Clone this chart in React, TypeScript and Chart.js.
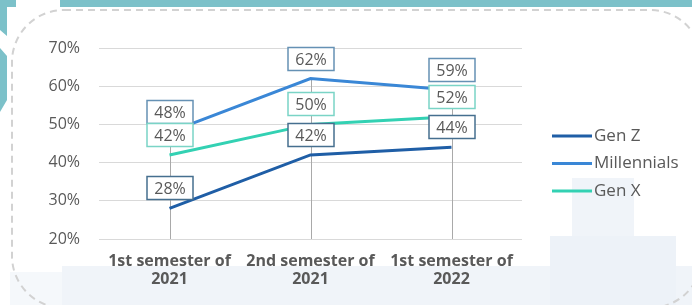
import React, { useEffect, useRef } from "react";
import { Chart, registerables } from "chart.js";

Chart.register(...registerables);

const categories: string[][] = [
  ["1st semester of", "2021"],
  ["2nd semester of", "2021"],
  ["1st semester of", "2022"],
];
const seriesNames = ["Gen Z", "Millennials", "Gen X"];
const genZ = [28, 42, 44];
const millennials = [48, 62, 59];
const genX = [42, 50, 52];
const yTicks = [20, 30, 40, 50, 60, 70];

const lineColors = ["#1f5ea6", "#3a87d6", "#33d1b3"];
const boxBorders = ["#466f8f", "#6591b4", "#7ad4c6"];
const TEXT = "#595959";
const FONT = "'Open Sans', 'DejaVu Sans', sans-serif";

const overlayPlugin = {
  id: "overlay",
  beforeDatasetsDraw(chart: any) {
    const ctx = chart.ctx;
    const xs = chart.scales.x;
    const ys = chart.scales.y;
    ctx.save();
    ctx.strokeStyle = "#a9a9a9";
    ctx.lineWidth = 1;
    categories.forEach((_, i) => {
      const maxV = Math.max(...chart.data.datasets.map((d: any) => d.data[i]));
      const px = Math.round(xs.getPixelForValue(i)) + 0.5;
      ctx.beginPath();
      ctx.moveTo(px, ys.getPixelForValue(maxV));
      ctx.lineTo(px, ys.getPixelForValue(yTicks[0]));
      ctx.stroke();
    });
    ctx.restore();
  },
  afterDatasetsDraw(chart: any) {
    const ctx = chart.ctx;
    ctx.save();
    const w = 46;
    const h = 23;
    chart.data.datasets.forEach((ds: any, di: number) => {
      const meta = chart.getDatasetMeta(di);
      meta.data.forEach((pt: any, i: number) => {
        const cx = Math.round(pt.x);
        const cy = Math.round(pt.y - 20);
        ctx.fillStyle = "#ffffff";
        ctx.fillRect(cx - w / 2, cy - h / 2, w, h);
        ctx.strokeStyle = boxBorders[di];
        ctx.lineWidth = 1.5;
        ctx.strokeRect(cx - w / 2, cy - h / 2, w, h);
        ctx.fillStyle = TEXT;
        ctx.font = `16px ${FONT}`;
        ctx.textAlign = "center";
        ctx.textBaseline = "middle";
        ctx.fillText(`${ds.data[i]}%`, cx, cy + 1);
      });
    });
    // legend
    const lx = chart.chartArea.right + 30;
    const ly0 = 136;
    const gap = 27.5;
    chart.data.datasets.forEach((ds: any, di: number) => {
      const y = ly0 + di * gap;
      ctx.strokeStyle = ds.borderColor;
      ctx.lineWidth = 3;
      ctx.beginPath();
      ctx.moveTo(lx, y);
      ctx.lineTo(lx + 40, y);
      ctx.stroke();
      ctx.fillStyle = TEXT;
      ctx.font = `17px ${FONT}`;
      ctx.textAlign = "left";
      ctx.textBaseline = "middle";
      ctx.fillText(ds.label, lx + 42, y);
    });
    ctx.restore();
  },
};

function Background() {
  return (
    <svg
      width={692}
      height={305}
      style={{ position: "absolute", left: 0, top: 0 }}
    >
      <rect x={0} y={0} width={692} height={305} fill="#ffffff" />
      <rect x={60} y={0} width={632} height={7} fill="#7cc1c9" />
      <polygon points="0,0 16,0 16,7 7,7 7,36 0,30" fill="#7cc1c9" />
      <polygon points="0,48 7,56 7,100 0,112" fill="#7cc1c9" />
      <rect x={62} y={266} width={630} height={39} fill="#f0f4f9" />
      <rect x={10} y={272} width={52} height={33} fill="#f5f8fb" />
      <rect x={572} y={178} width={62} height={58} fill="#f0f4f9" />
      <rect x={550} y={236} width={126} height={69} fill="#edf2f8" />
      <rect
        x={12}
        y={10}
        width={690}
        height={298}
        rx={52}
        ry={52}
        fill="none"
        stroke="#d2d2d2"
        strokeWidth={2}
        strokeDasharray="7 5"
      />
    </svg>
  );
}

export default function App() {
  const ref = useRef<HTMLCanvasElement | null>(null);
  useEffect(() => {
    if (!ref.current) return;
    const seriesData = [genZ, millennials, genX];
    const chart = new Chart(ref.current, {
      type: "line",
      data: {
        labels: categories,
        datasets: seriesNames.map((name, i) => ({
          label: name,
          data: seriesData[i],
          borderColor: lineColors[i],
          backgroundColor: lineColors[i],
          borderWidth: 3,
          pointRadius: 0,
          tension: 0,
          fill: false,
        })),
      },
      options: {
        responsive: false,
        animation: false,
        layout: { padding: { top: 48, left: 0, right: 170, bottom: 0 } },
        plugins: {
          legend: { display: false },
          tooltip: { enabled: false },
        },
        scales: {
          x: {
            offset: true,
            grid: { display: false },
            border: { display: false },
            ticks: {
              color: TEXT,
              font: { family: FONT, size: 16, weight: "bold", lineHeight: 1.15 },
              padding: 5,
              maxRotation: 0,
              autoSkip: false,
            },
            afterFit: (s: any) => {
              s.height = 66;
            },
          },
          y: {
            min: yTicks[0],
            max: yTicks[yTicks.length - 1],
            border: { display: false },
            grid: { color: "#d9d9d9", drawTicks: false, lineWidth: 1 },
            ticks: {
              stepSize: 10,
              color: TEXT,
              padding: 19,
              font: { family: FONT, size: 16 },
              callback: (v: any) => `${v}%`,
            },
            afterFit: (s: any) => {
              s.width = 99;
            },
          },
        },
      },
      plugins: [overlayPlugin],
    });
    return () => chart.destroy();
  }, []);
  return (
    <div style={{ position: "absolute", left: 0, top: 0, width: 692, height: 305 }}>
      <Background />
      <canvas
        ref={ref}
        width={692}
        height={305}
        style={{ position: "absolute", left: 0, top: 0, width: 692, height: 305 }}
      />
    </div>
  );
}
